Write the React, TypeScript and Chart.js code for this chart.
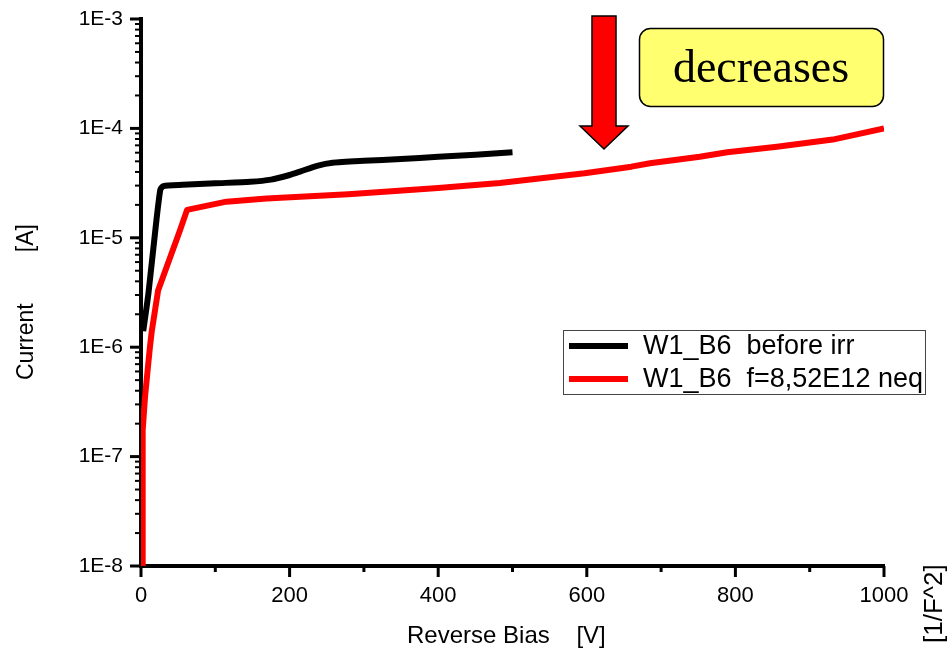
import React, { useEffect, useRef } from 'react';
import { Chart, registerables } from 'chart.js';

Chart.register(...registerables);

// ---- data ----
const beforeLabel = 'W1_B6  before irr';
const beforeVoltage = [3, 10, 20, 26, 30, 56, 100, 147, 175, 200, 215, 237, 258, 300, 350, 400, 450, 500];
const beforeCurrent = [1.4e-6, 3.1e-6, 1.3e-5, 2.75e-5, 2.97e-5, 3.05e-5, 3.15e-5, 3.25e-5, 3.4e-5, 3.75e-5, 4.05e-5, 4.55e-5, 4.85e-5, 5.05e-5, 5.25e-5, 5.5e-5, 5.75e-5, 6.05e-5];

const afterLabel = 'W1_B6  f=8,52E12 neq';
const afterVoltage = [2, 2, 2.5, 5.4, 9.9, 12, 14.5, 23, 34.5, 52.5, 62, 115, 169, 279, 400, 483, 597, 660, 685, 752, 789, 856, 931, 1000];
const afterCurrent = [1e-8, 8.7e-8, 1.74e-7, 3.5e-7, 7.2e-7, 1e-6, 1.4e-6, 3.3e-6, 5.4e-6, 1.17e-5, 1.8e-5, 2.14e-5, 2.29e-5, 2.5e-5, 2.85e-5, 3.17e-5, 3.89e-5, 4.47e-5, 4.8e-5, 5.5e-5, 6.05e-5, 6.8e-5, 7.9e-5, 1.0e-4];

const xMajorTicks = [0, 200, 400, 600, 800, 1000];
const xMinorTicks = [100, 300, 500, 700, 900];
const yDecadeTicks = [1e-8, 1e-7, 1e-6, 1e-5, 1e-4, 1e-3];
const yMinorFactors = [2, 3, 4, 5, 6, 7, 8, 9];

const xTitle = 'Reverse Bias    [V]';
const yTitle = 'Current        [A]';
const rightTitle = '[1/F^2]';
const noteText = 'decreases';

const FONT = '"Liberation Sans", Arial, sans-serif';

const decorPlugin = {
  id: 'decor',
  afterDraw(chart: any) {
    const { ctx, chartArea } = chart;
    const xs = chart.scales.x;
    const ys = chart.scales.y;
    ctx.save();
    // tick marks
    ctx.strokeStyle = '#000';
    ctx.lineCap = 'butt';
    const drawX = (v: number, len: number, w: number) => {
      const p = xs.getPixelForValue(v);
      ctx.lineWidth = w;
      ctx.beginPath();
      ctx.moveTo(p, chartArea.bottom);
      ctx.lineTo(p, chartArea.bottom + len);
      ctx.stroke();
    };
    const drawY = (v: number, len: number, w: number) => {
      const p = ys.getPixelForValue(v);
      ctx.lineWidth = w;
      ctx.beginPath();
      ctx.moveTo(chartArea.left, p);
      ctx.lineTo(chartArea.left - len, p);
      ctx.stroke();
    };
    xMajorTicks.forEach((v) => drawX(v, 11, 3));
    xMinorTicks.forEach((v) => drawX(v, 6, 3));
    yDecadeTicks.forEach((v) => drawY(v, 11, 3));
    yDecadeTicks.slice(0, -1).forEach((d) => yMinorFactors.forEach((f) => drawY(d * f, 6, 2)));

    // axis titles
    ctx.fillStyle = '#000';
    ctx.font = `24px ${FONT}`;
    ctx.textAlign = 'left';
    ctx.textBaseline = 'alphabetic';
    ctx.fillText(xTitle, 407, 643);

    ctx.save();
    ctx.translate(33, 380);
    ctx.rotate(-Math.PI / 2);
    ctx.font = `23px ${FONT}`;
    ctx.fillText(yTitle, 0, 0);
    ctx.restore();

    ctx.save();
    ctx.translate(942, 643);
    ctx.rotate(-Math.PI / 2);
    ctx.font = `26px ${FONT}`;
    ctx.fillText(rightTitle, 0, 0);
    ctx.restore();

    // legend
    ctx.lineWidth = 1;
    ctx.strokeStyle = '#444';
    ctx.strokeRect(563.5, 330.5, 362, 64);
    const rows = [346, 379];
    chart.data.datasets.forEach((ds: any, i: number) => {
      ctx.strokeStyle = ds.borderColor;
      ctx.lineWidth = 6;
      ctx.beginPath();
      ctx.moveTo(569, rows[i]);
      ctx.lineTo(628, rows[i]);
      ctx.stroke();
      ctx.fillStyle = '#000';
      ctx.font = `27px ${FONT}`;
      ctx.textBaseline = 'middle';
      ctx.fillText(ds.label, 643, rows[i] + 1);
    });

    // red arrow
    const ax = 604;
    ctx.beginPath();
    ctx.moveTo(ax - 12, 16);
    ctx.lineTo(ax + 12, 16);
    ctx.lineTo(ax + 12, 126);
    ctx.lineTo(ax + 24, 126);
    ctx.lineTo(ax, 149);
    ctx.lineTo(ax - 24, 126);
    ctx.lineTo(ax - 12, 126);
    ctx.closePath();
    ctx.fillStyle = '#ff0000';
    ctx.fill();
    ctx.lineWidth = 1.5;
    ctx.strokeStyle = '#000';
    ctx.stroke();

    // yellow note box
    ctx.beginPath();
    (ctx as any).roundRect(639.5, 28.5, 244, 78, 11);
    ctx.fillStyle = '#ffff70';
    ctx.fill();
    ctx.lineWidth = 1.5;
    ctx.strokeStyle = '#000';
    ctx.stroke();
    ctx.fillStyle = '#000';
    ctx.font = `46px "Liberation Serif", "Times New Roman", serif`;
    ctx.textAlign = 'center';
    ctx.textBaseline = 'alphabetic';
    ctx.fillText(noteText, 761, 82);
    ctx.restore();
  },
};

export default function App() {
  const ref = useRef<HTMLCanvasElement | null>(null);
  useEffect(() => {
    document.body.style.margin = '0';
    const canvas = ref.current;
    if (!canvas) return;
    const chart = new Chart(canvas, {
      type: 'line',
      data: {
        datasets: [
          {
            label: beforeLabel,
            data: beforeVoltage.map((v, i) => ({ x: v, y: beforeCurrent[i] })),
            borderColor: '#000000',
            backgroundColor: '#000000',
            borderWidth: 6,
            pointRadius: 0,
            tension: 0.2,
            borderJoinStyle: 'round',
          },
          {
            label: afterLabel,
            data: afterVoltage.map((v, i) => ({ x: v, y: afterCurrent[i] })),
            borderColor: '#ff0000',
            backgroundColor: '#ff0000',
            borderWidth: 6,
            pointRadius: 0,
            tension: 0,
            borderJoinStyle: 'round',
          },
        ],
      },
      options: {
        responsive: false,
        animation: false,
        layout: { padding: { left: 0, top: 19, right: 63, bottom: 0 } },
        plugins: { legend: { display: false }, tooltip: { enabled: false }, title: { display: false } },
        scales: {
          x: {
            type: 'linear',
            min: 0,
            max: 1000,
            afterFit: (s: any) => { s.height = 86; s.paddingLeft = 0; s.paddingRight = 0; },
            afterBuildTicks: (s: any) => { s.ticks = xMajorTicks.map((v) => ({ value: v })); },
            ticks: {
              color: '#000',
              font: { family: FONT, size: 22 },
              padding: 17,
              maxRotation: 0,
              autoSkip: false,
              callback: (v: any) => String(v),
            },
            grid: { drawOnChartArea: false, drawTicks: false, color: 'rgba(0,0,0,0)' },
            border: { display: true, color: '#000', width: 4 },
          },
          y: {
            type: 'logarithmic',
            min: 1e-8,
            max: 1e-3,
            afterFit: (s: any) => { s.width = 141; s.paddingTop = 0; s.paddingBottom = 0; },
            afterBuildTicks: (s: any) => { s.ticks = yDecadeTicks.map((v) => ({ value: v })); },
            ticks: {
              color: '#000',
              font: { family: FONT, size: 21 },
              padding: 18,
              autoSkip: false,
              callback: (v: any) => '1E' + Math.round(Math.log10(Number(v))),
            },
            grid: { drawOnChartArea: false, drawTicks: false, color: 'rgba(0,0,0,0)' },
            border: { display: true, color: '#000', width: 4 },
          },
        },
      },
      plugins: [decorPlugin],
    } as any);
    return () => chart.destroy();
  }, []);
  return (
    <div style={{ position: 'absolute', left: 0, top: 0, width: 947, height: 652, background: '#fff' }}>
      <canvas ref={ref} width={947} height={652} style={{ display: 'block' }} />
    </div>
  );
}
